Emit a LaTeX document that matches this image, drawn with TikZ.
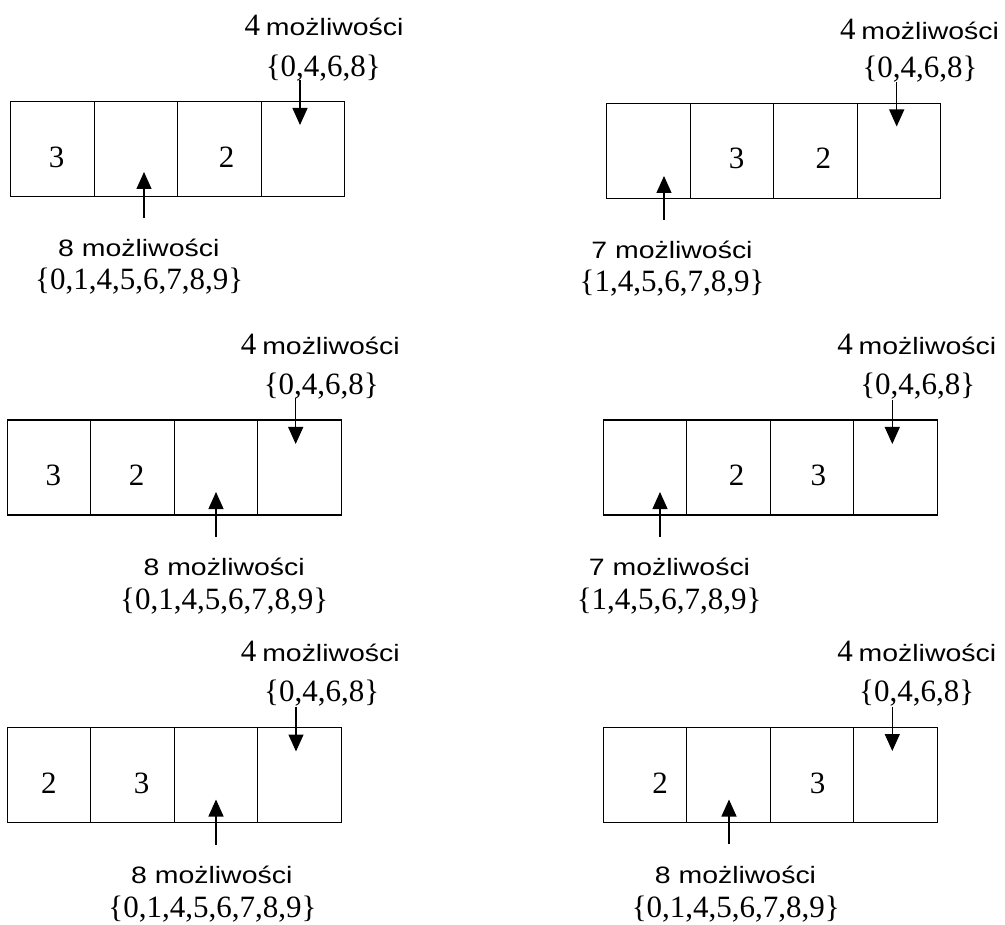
\documentclass[tikz,border=0pt]{standalone}
\usepackage{fontspec}
\setmainfont{Liberation Serif}
\newfontfamily\labsans[FakeStretch=1.2]{Liberation Sans}
\usetikzlibrary{arrows.meta}
\newcommand\mz{\labsans możliwości}
\tikzset{
  cellbox/.style={draw, line width=1.3pt, minimum width=83.5pt, minimum height=95pt, inner sep=0pt, outer sep=0pt},
  digit/.style={anchor=base, inner sep=0pt, font=\fontsize{31}{31}\selectfont},
  setlab/.style={anchor=base, inner sep=0pt, font=\fontsize{31}{31}\selectfont},
  wordlab/.style={anchor=base, inner sep=0pt, font=\fontsize{23.7}{24}\selectfont},
  pointer/.style={line width=1.2pt, -{Triangle[length=17pt,width=15pt]}}
}
\newcommand\cellrow[3]{%
  \node[cellbox, anchor=north west] (#1c1) at (#2,#3) {};
  \node[cellbox, anchor=west] (#1c2) at (#1c1.east) {};
  \node[cellbox, anchor=west] (#1c3) at (#1c2.east) {};
  \node[cellbox, anchor=west] (#1c4) at (#1c3.east) {};
}
\begin{document}
\begin{tikzpicture}[x=1pt, y=-1pt]
\useasboundingbox (0,0) rectangle (1005,925);

% ---------- panel 1 (top left)
\cellrow{a}{10.7}{101.7}
\node[digit] (ad1) at (56.7,167.7) {3};
\node[digit] (ad2) at (226.7,167.7) {2};
\node[wordlab] (atop) at (324,35.7) {{\fontsize{31}{31}\selectfont 4} \mz};
\node[setlab] (aset) at (323.3,76.5) {\{0,4,6,8\}};
\coordinate (atail) at (300,80.5);
\coordinate (atip) at (300,125);
\draw[pointer] (atail) -- (atip);
\node[wordlab] (abot) at (138.8,256.7) {\labsans 8 możliwości};
\node[setlab] (abset) at (139.2,290) {\{0,1,4,5,6,7,8,9\}};
\coordinate (abtail) at (144,218.3);
\coordinate (abtip) at (144,172);
\draw[pointer] (abtail) -- (abtip);

% ---------- panel 2 (top right)
\cellrow{b}{606.7}{103.3}
\node[digit] (bd1) at (736.7,168.3) {3};
\node[digit] (bd2) at (823.3,168.3) {2};
\node[wordlab] (btop) at (919.5,39.3) {{\fontsize{31}{31}\selectfont 4} \mz};
\node[setlab] (bset) at (920,78) {\{0,4,6,8\}};
\coordinate (btail) at (896.7,81.7);
\coordinate (btip) at (896.7,126.5);
\draw[pointer] (btail) -- (btip);
\node[wordlab] (bbot) at (672,258.3) {\labsans 7 możliwości};
\node[setlab] (bbset) at (672,292) {\{1,4,5,6,7,8,9\}};
\coordinate (bbtail) at (664,220);
\coordinate (bbtip) at (664,176);
\draw[pointer] (bbtail) -- (bbtip);

% ---------- panel 3 (middle left)
\cellrow{c}{7.3}{420}
\node[digit] (cd1) at (53.3,485.5) {3};
\node[digit] (cd2) at (136.7,485.5) {2};
\node[wordlab] (ctop) at (320.3,355) {{\fontsize{31}{31}\selectfont 4} \mz};
\node[setlab] (cset) at (321.3,395) {\{0,4,6,8\}};
\coordinate (ctail) at (295.7,398.3);
\coordinate (ctip) at (295.7,444);
\draw[pointer] (ctail) -- (ctip);
\node[wordlab] (cbot) at (224.2,575) {\labsans 8 możliwości};
\node[setlab] (cbset) at (224.2,609.3) {\{0,1,4,5,6,7,8,9\}};
\coordinate (cbtail) at (216,536.7);
\coordinate (cbtip) at (216,492);
\draw[pointer] (cbtail) -- (cbtip);

% ---------- panel 4 (middle right)
\cellrow{d}{603.3}{420}
\node[digit] (dd1) at (736.7,485.7) {2};
\node[digit] (dd2) at (818.3,485.7) {3};
\node[wordlab] (dtop) at (916.7,355) {{\fontsize{31}{31}\selectfont 4} \mz};
\node[setlab] (dset) at (917.8,395) {\{0,4,6,8\}};
\coordinate (dtail) at (892.3,400);
\coordinate (dtip) at (892.3,444);
\draw[pointer] (dtail) -- (dtip);
\node[wordlab] (dbot) at (669.5,575) {\labsans 7 możliwości};
\node[setlab] (dbset) at (669.2,609) {\{1,4,5,6,7,8,9\}};
\coordinate (dbtail) at (660,536.7);
\coordinate (dbtip) at (660,492);
\draw[pointer] (dbtail) -- (dbtip);

% ---------- panel 5 (bottom left)
\cellrow{e}{7.3}{727.7}
\node[digit] (ed1) at (49,793) {2};
\node[digit] (ed2) at (141.7,793) {3};
\node[wordlab] (etop) at (320.3,661.7) {{\fontsize{31}{31}\selectfont 4} \mz};
\node[setlab] (eset) at (321.7,701) {\{0,4,6,8\}};
\coordinate (etail) at (296,706.7);
\coordinate (etip) at (296,751.5);
\draw[pointer] (etail) -- (etip);
\node[wordlab] (ebot) at (211.8,883.3) {\labsans 8 możliwości};
\node[setlab] (ebset) at (212.5,917) {\{0,1,4,5,6,7,8,9\}};
\coordinate (ebtail) at (216,845);
\coordinate (ebtip) at (216,799.5);
\draw[pointer] (ebtail) -- (ebtip);

% ---------- panel 6 (bottom right)
\cellrow{f}{603.3}{727.7}
\node[digit] (fd1) at (660,793) {2};
\node[digit] (fd2) at (817.7,793) {3};
\node[wordlab] (ftop) at (916.7,661.7) {{\fontsize{31}{31}\selectfont 4} \mz};
\node[setlab] (fset) at (916.7,701) {\{0,4,6,8\}};
\coordinate (ftail) at (892.3,706.7);
\coordinate (ftip) at (892.3,751);
\draw[pointer] (ftail) -- (ftip);
\node[wordlab] (fbot) at (735.5,883.3) {\labsans 8 możliwości};
\node[setlab] (fbset) at (735.8,917) {\{0,1,4,5,6,7,8,9\}};
\coordinate (fbtail) at (729,844.3);
\coordinate (fbtip) at (729,799.5);
\draw[pointer] (fbtail) -- (fbtip);
\end{tikzpicture}
\end{document}
